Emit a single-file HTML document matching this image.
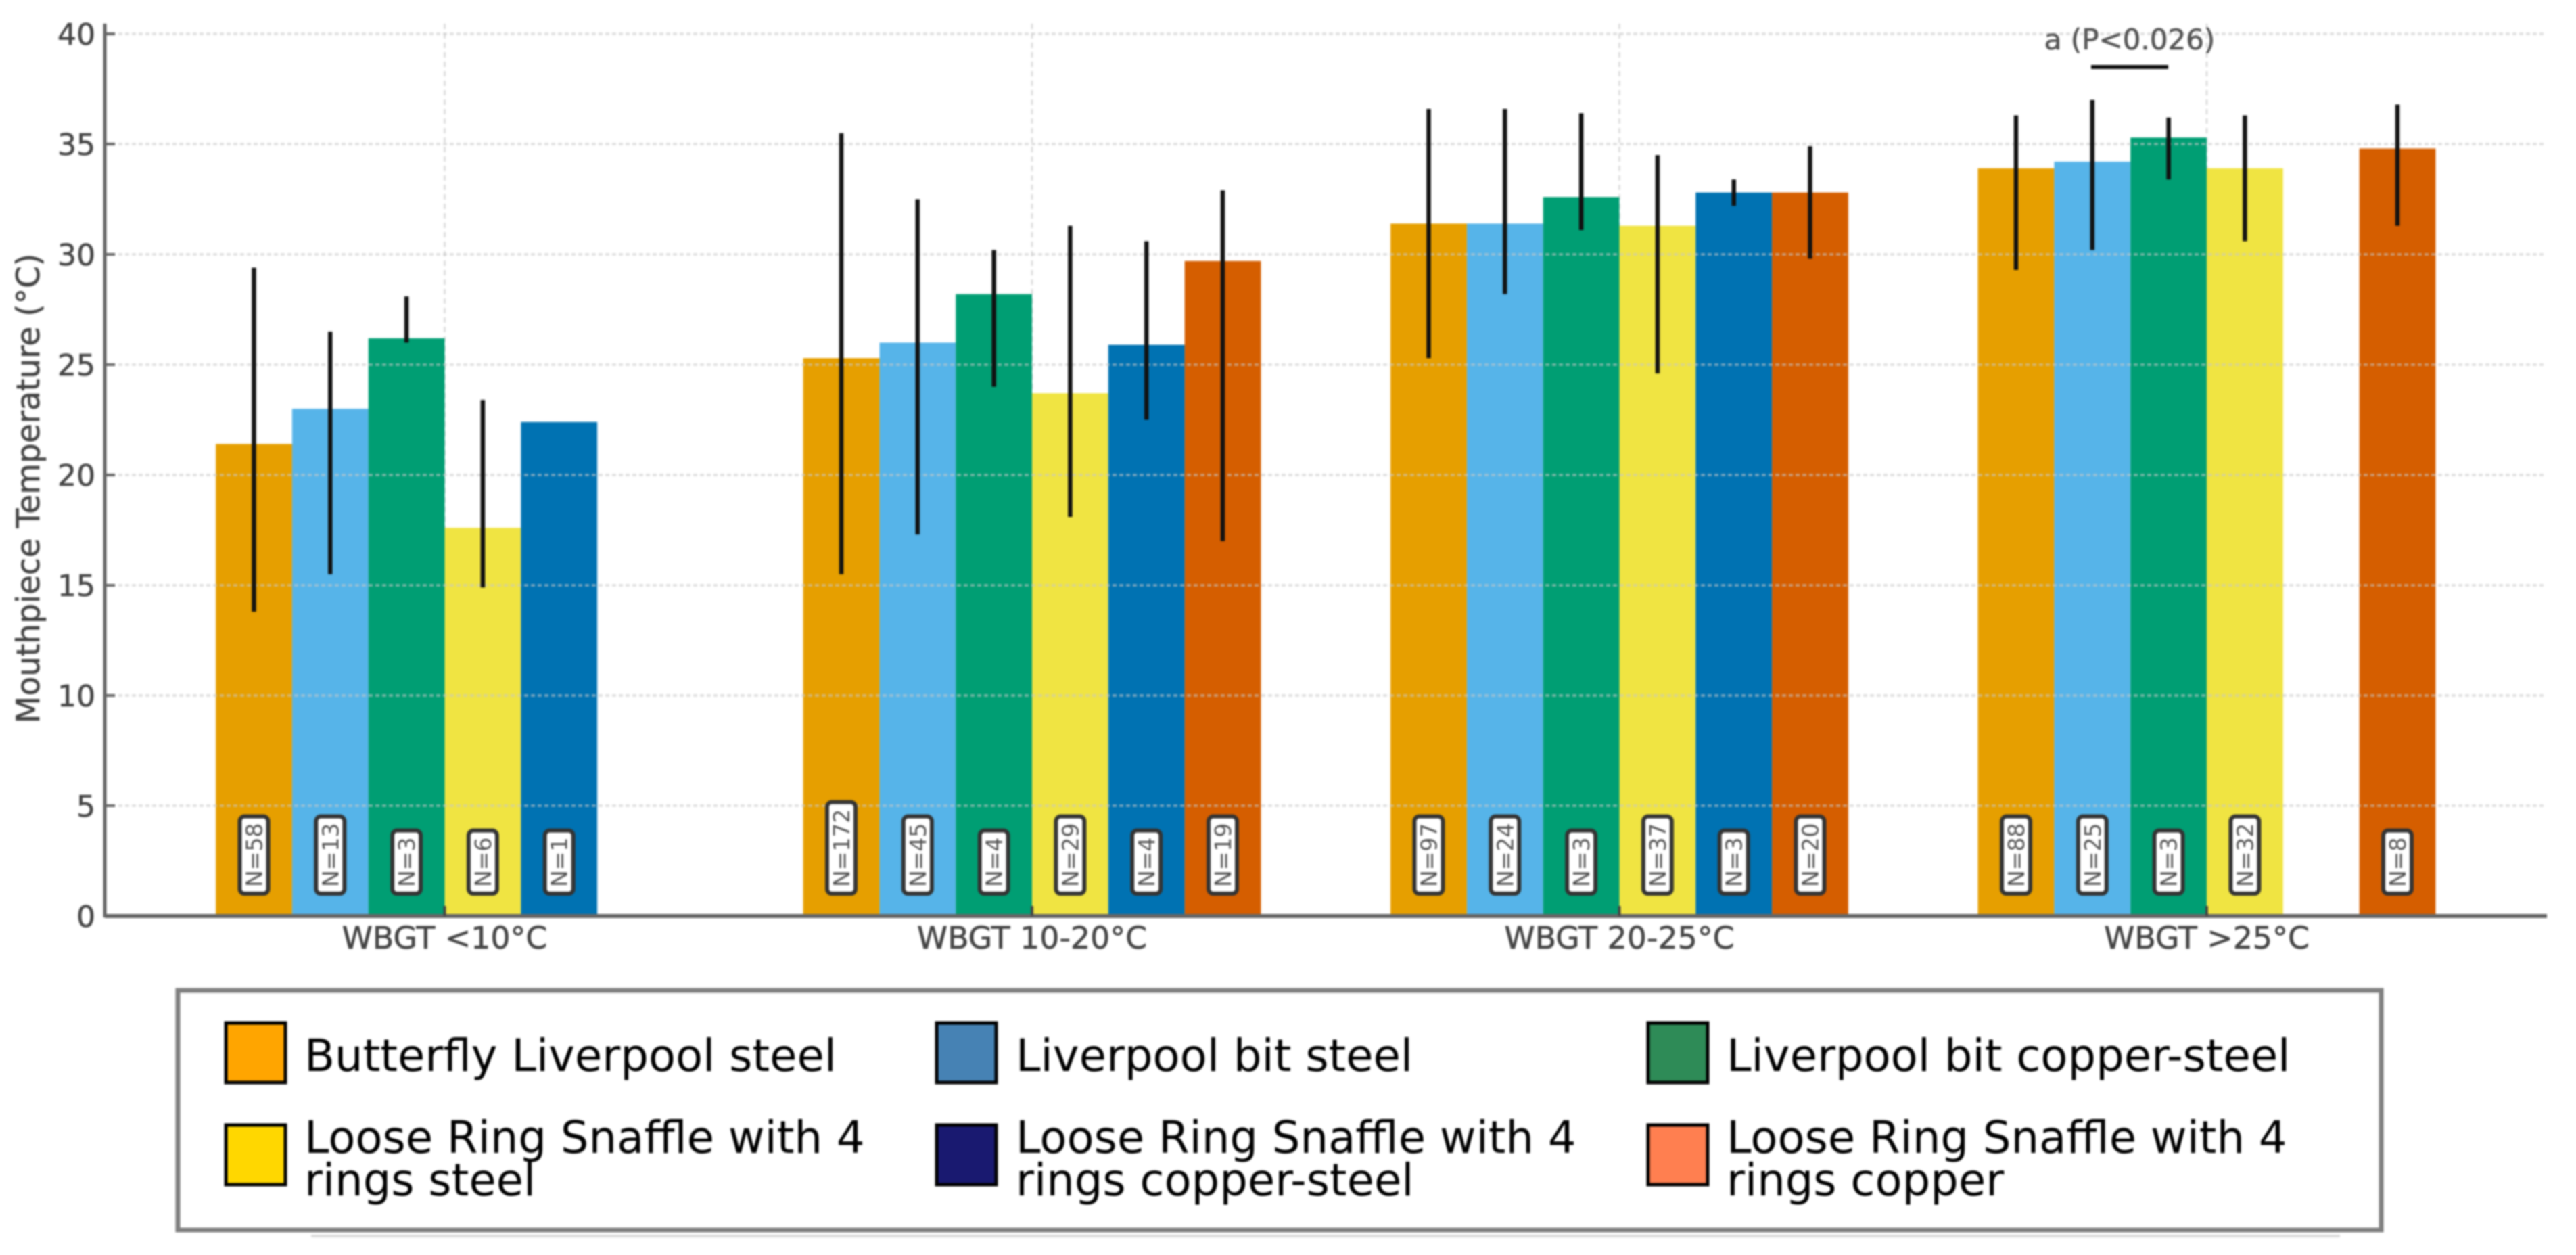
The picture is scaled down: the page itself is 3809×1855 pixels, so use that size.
<!DOCTYPE html>
<html lang="en">
<head>
<meta charset="utf-8">
<title>Mouthpiece Temperature by WBGT</title>
<style>
html,body{margin:0;padding:0;background:#fff;width:3809px;height:1855px;overflow:hidden}
svg{display:block;filter:blur(1.4px)}
text{font-family:"DejaVu Sans","Liberation Sans",sans-serif}
.soft{stroke:#444;stroke-width:0.6px}
</style>
</head>
<body>
<svg id="chart" xmlns="http://www.w3.org/2000/svg" width="3809" height="1855" viewBox="0 0 3809 1855">
  <rect x="0" y="0" width="3809" height="1855" fill="#fff"/>
  <g id="vgrid"></g>
  <g id="bars"></g>
  <g id="hgrid"></g>
  <g id="errors"></g>
  <g id="counts"></g>
  <g id="axes"></g>
  <text class="soft" transform="translate(58 722) rotate(-90)" text-anchor="middle" font-size="47" fill="#444">Mouthpiece Temperature (°C)</text>
  <text class="soft" x="3149" y="73" text-anchor="middle" font-size="42" fill="#555">a (P&lt;0.026)</text>
  <rect x="3092" y="96" width="114" height="6" fill="#111"/>

  <g>
    <rect x="460" y="1825" width="3000" height="4" fill="#dcdcdc"/>
    <rect x="263" y="1464" width="3258" height="354" fill="#fff" stroke="#808080" stroke-width="7"/>
    <g>
      <rect x="334" y="1512" width="88" height="88" fill="#FFA500" stroke="#000" stroke-width="5"/>
      <text x="450" y="1583" font-size="65.6" fill="#000">Butterfly Liverpool steel</text>
    </g>
    <g>
      <rect x="1385" y="1512" width="88" height="88" fill="#4682B4" stroke="#000" stroke-width="5"/>
      <text x="1502" y="1583" font-size="65.6" fill="#000">Liverpool bit steel</text>
    </g>
    <g>
      <rect x="2437" y="1512" width="88" height="88" fill="#2E8B57" stroke="#000" stroke-width="5"/>
      <text x="2553" y="1583" font-size="65.6" fill="#000">Liverpool bit copper-steel</text>
    </g>
    <g>
      <rect x="334" y="1663" width="88" height="88" fill="#FFD700" stroke="#000" stroke-width="5"/>
      <text x="450" y="1704" font-size="65.6" fill="#000">Loose Ring Snaffle with 4</text>
      <text x="450" y="1767" font-size="65.6" fill="#000">rings steel</text>
    </g>
    <g>
      <rect x="1385" y="1663" width="88" height="88" fill="#191970" stroke="#000" stroke-width="5"/>
      <text x="1502" y="1704" font-size="65.6" fill="#000">Loose Ring Snaffle with 4</text>
      <text x="1502" y="1767" font-size="65.6" fill="#000">rings copper-steel</text>
    </g>
    <g>
      <rect x="2437" y="1663" width="88" height="88" fill="#FF7F50" stroke="#000" stroke-width="5"/>
      <text x="2553" y="1704" font-size="65.6" fill="#000">Loose Ring Snaffle with 4</text>
      <text x="2553" y="1767" font-size="65.6" fill="#000">rings copper</text>
    </g>
  </g>
</svg>
<script>
const categories = ['WBGT <10°C', 'WBGT 10-20°C', 'WBGT 20-25°C', 'WBGT >25°C'];
const yTicks = [0, 5, 10, 15, 20, 25, 30, 35, 40];
const seriesKeys = ['butterfly-liverpool-steel', 'liverpool-bit-steel', 'liverpool-bit-copper-steel', 'loose-ring-steel', 'loose-ring-copper-steel', 'loose-ring-copper'];
const seriesColors = ['#E69F00', '#56B4E9', '#009E73', '#F0E442', '#0072B2', '#D55E00'];

const meanButterfly = [21.4, 25.3, 31.4, 33.9];
const meanLiverpool = [23.0, 26.0, 31.4, 34.2];
const meanLiverpoolCu = [26.2, 28.2, 32.6, 35.3];
const meanLooseSteel = [17.6, 23.7, 31.3, 33.9];
const meanLooseCuSteel = [22.4, 25.9, 32.8, null];
const meanLooseCu = [null, 29.7, 32.8, 34.8];

const highButterfly = [29.4, 35.5, 36.6, 36.3];
const highLiverpool = [26.5, 32.5, 36.6, 37.0];
const highLiverpoolCu = [28.1, 30.2, 36.4, 36.2];
const highLooseSteel = [23.4, 31.3, 34.5, 36.3];
const highLooseCuSteel = [null, 30.6, 33.4, null];
const highLooseCu = [null, 32.9, 34.9, 36.8];

const lowButterfly = [13.8, 15.5, 25.3, 29.3];
const lowLiverpool = [15.5, 17.3, 28.2, 30.2];
const lowLiverpoolCu = [26.0, 24.0, 31.1, 33.4];
const lowLooseSteel = [14.9, 18.1, 24.6, 30.6];
const lowLooseCuSteel = [null, 22.5, 32.2, null];
const lowLooseCu = [null, 17.0, 29.8, 31.3];

const countButterfly = [58, 172, 97, 88];
const countLiverpool = [13, 45, 24, 25];
const countLiverpoolCu = [3, 4, 3, 3];
const countLooseSteel = [6, 29, 37, 32];
const countLooseCuSteel = [1, 4, 3, null];
const countLooseCu = [null, 19, 20, 8];

const means = [meanButterfly, meanLiverpool, meanLiverpoolCu, meanLooseSteel, meanLooseCuSteel, meanLooseCu];
const highs = [highButterfly, highLiverpool, highLiverpoolCu, highLooseSteel, highLooseCuSteel, highLooseCu];
const lows = [lowButterfly, lowLiverpool, lowLiverpoolCu, lowLooseSteel, lowLooseCuSteel, lowLooseCu];
const counts = [countButterfly, countLiverpool, countLiverpoolCu, countLooseSteel, countLooseCuSteel, countLooseCu];

const NS = 'http://www.w3.org/2000/svg';
const AXIS_LEFT = 155, AXIS_RIGHT = 3766, AXIS_TOP = 35, Y0 = 1354, PX_PER_UNIT = 32.6;
const GROUP_START = 657.5, GROUP_STEP = 868.5, BAR_W = 112.8;
const COUNT_BOX_BOTTOM = 1321, COUNT_FONT = 33, COUNT_PAD = 10, COUNT_THICK = 48;

function yScale(v) { return Y0 - v * PX_PER_UNIT; }
function groupX(g) { return GROUP_START + g * GROUP_STEP; }
function barLeft(g, s) { return groupX(g) + (s - 3) * BAR_W; }
function barCenter(g, s) { return barLeft(g, s) + BAR_W / 2; }

function make(tag, attrs, parent) {
  const el = document.createElementNS(NS, tag);
  for (const k in attrs) el.setAttribute(k, attrs[k]);
  parent.appendChild(el);
  return el;
}

const vgrid = document.getElementById('vgrid');
const hgrid = document.getElementById('hgrid');
const barsG = document.getElementById('bars');
const errG = document.getElementById('errors');
const countG = document.getElementById('counts');
const axes = document.getElementById('axes');

categories.forEach(function (cat, g) {
  const line = make('line', {x1: groupX(g), x2: groupX(g), y1: AXIS_TOP, y2: Y0, stroke: '#dedede', 'stroke-width': 3, 'stroke-dasharray': '8 6'}, vgrid);
  
  
});

means.forEach(function (series, s) {
  series.forEach(function (v, g) {
    if (v === null) return;
    const bar = make('rect', {x: barLeft(g, s), y: yScale(v), width: BAR_W, height: Y0 - yScale(v), fill: seriesColors[s]}, barsG);
    
    
  });
});

yTicks.forEach(function (t) {
  if (t !== 0) {
    const gl = make('line', {x1: AXIS_LEFT, x2: 3763, y1: yScale(t), y2: yScale(t), stroke: 'rgba(200,200,200,0.6)', 'stroke-width': 3.5, 'stroke-dasharray': '6 4'}, hgrid);
    
    
  }
  const tick = make('line', {x1: AXIS_LEFT, x2: AXIS_LEFT + 15, y1: yScale(t), y2: yScale(t), stroke: '#666', 'stroke-width': 4}, axes);
  
  
  const label = make('text', {x: 141, y: yScale(t) + 16, 'text-anchor': 'end', 'font-size': 44, fill: '#444', class: 'soft'}, axes);
  label.textContent = String(t);
  
  
});

highs.forEach(function (series, s) {
  series.forEach(function (hi, g) {
    if (hi === null || lows[s][g] === null) return;
    const err = make('line', {x1: barCenter(g, s), x2: barCenter(g, s), y1: yScale(hi), y2: yScale(lows[s][g]), stroke: '#111', 'stroke-width': 6.5}, errG);
    
    
  });
});

counts.forEach(function (series, s) {
  series.forEach(function (n, g) {
    if (n === null) return;
    const cx = barCenter(g, s);
    const box = make('rect', {x: cx - COUNT_THICK / 2 + 3, y: COUNT_BOX_BOTTOM, width: COUNT_THICK - 6, height: 10, rx: 7, ry: 7, fill: '#fff', stroke: '#333', 'stroke-width': 6}, countG);
    
    
    const label = make('text', {transform: 'translate(' + (cx + 12) + ' ' + (COUNT_BOX_BOTTOM - COUNT_PAD) + ') rotate(-90)', 'font-size': COUNT_FONT, fill: '#555'}, countG);
    label.textContent = 'N=' + n;
    
    
    const len = label.getComputedTextLength() + COUNT_PAD * 2;
    box.setAttribute('y', COUNT_BOX_BOTTOM - len);
    box.setAttribute('height', len);
  });
});

const yAxisLine = make('line', {x1: AXIS_LEFT, x2: AXIS_LEFT, y1: AXIS_TOP, y2: Y0 + 2, stroke: '#666', 'stroke-width': 5}, axes);


const xAxisLine = make('line', {x1: AXIS_LEFT, x2: AXIS_RIGHT, y1: Y0, y2: Y0, stroke: '#666', 'stroke-width': 6}, axes);



categories.forEach(function (cat, g) {
  const tick = make('line', {x1: groupX(g), x2: groupX(g), y1: Y0 - 15, y2: Y0, stroke: '#444', 'stroke-width': 4}, axes);
  
  
  const label = make('text', {x: groupX(g), y: 1402, 'text-anchor': 'middle', 'font-size': 45.8, fill: '#444', class: 'soft'}, axes);
  label.textContent = cat;
  
  
});
</script>
</body>
</html>
